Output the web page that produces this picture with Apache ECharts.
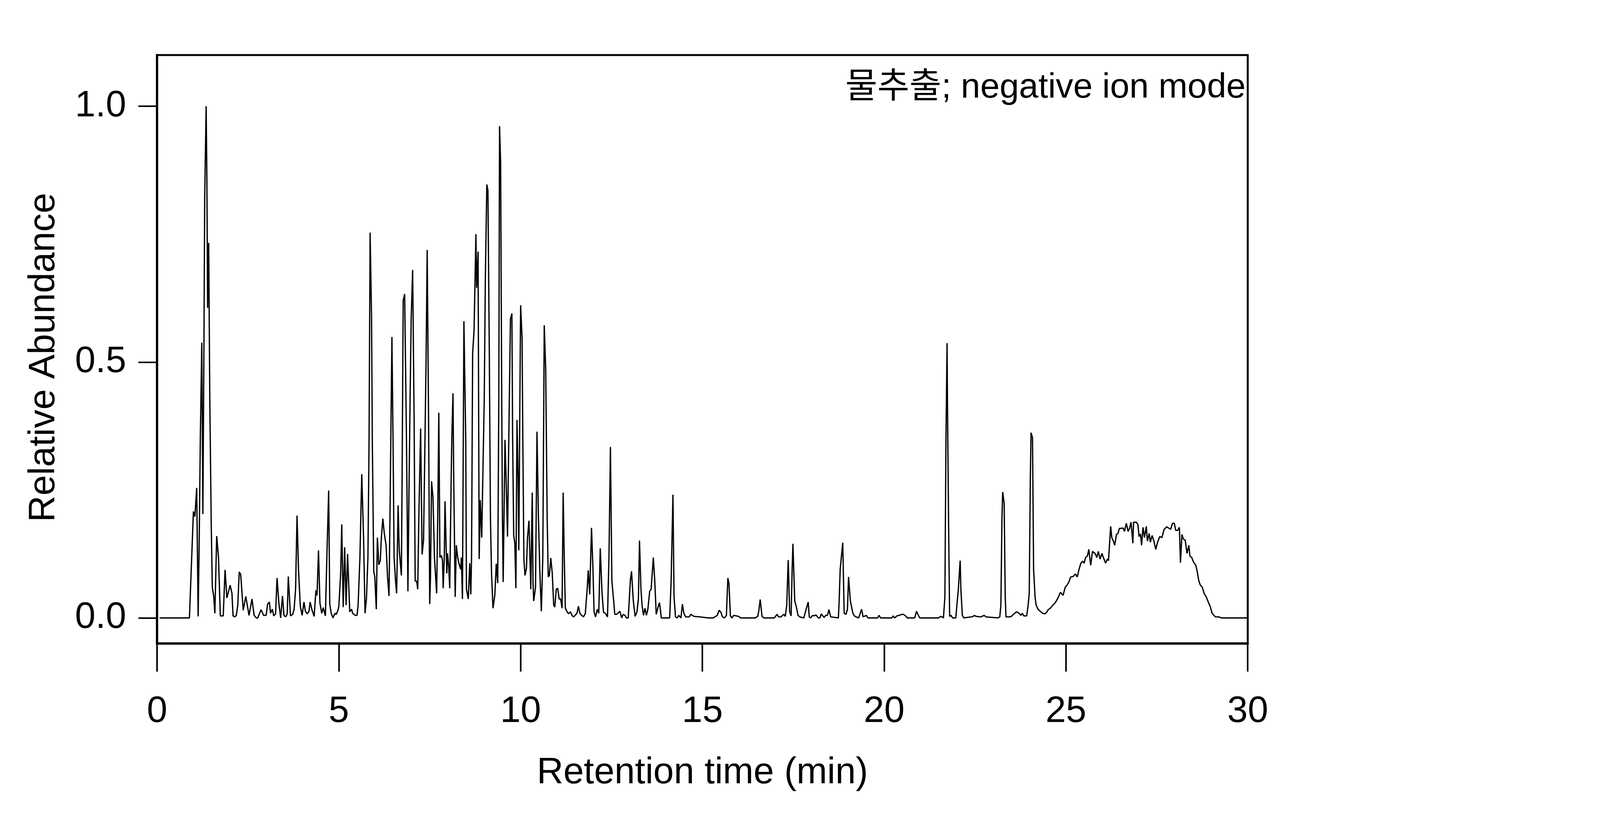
<!DOCTYPE html>
<html>
<head>
<meta charset="utf-8">
<script src="https://cdn.jsdelivr.net/npm/echarts@6/dist/echarts.min.js"></script>
<style>
html,body{margin:0;padding:0;background:#fff;overflow:hidden;}
#chart{width:100vw;height:100vh;}
</style>
</head>
<body>
<div id="chart"></div>
<script>
// Retention time (min) and relative abundance, segment 1 (0-10.3 min)
const time1 = [0.07,0.89,1.00,1.04,1.09,1.13,1.16,1.19,1.23,1.26,1.29,1.31,1.35,1.37,1.39,1.42,1.45,1.49,1.52,1.56,1.59,1.64,1.69,1.74,1.82,1.87,1.92,2.01,2.06,2.09,2.14,2.18,2.22,2.26,2.30,2.37,2.44,2.53,2.61,2.67,2.73,2.77,2.86,2.93,3.00,3.04,3.09,3.12,3.17,3.21,3.26,3.30,3.35,3.40,3.45,3.49,3.54,3.58,3.61,3.67,3.73,3.77,3.81,3.85,3.89,3.94,3.99,4.04,4.08,4.13,4.18,4.21,4.26,4.32,4.37,4.40,4.44,4.48,4.53,4.57,4.63,4.67,4.72,4.75,4.79,4.84,4.89,4.93,4.98,5.00,5.05,5.08,5.12,5.16,5.20,5.24,5.30,5.35,5.38,5.45,5.50,5.53,5.58,5.63,5.68,5.72,5.76,5.80,5.83,5.86,5.90,5.92,5.96,5.99,6.03,6.06,6.10,6.14,6.17,6.21,6.25,6.30,6.34,6.38,6.41,6.46,6.49,6.52,6.56,6.59,6.63,6.66,6.72,6.74,6.77,6.81,6.86,6.90,6.93,6.96,6.99,7.03,7.07,7.10,7.14,7.17,7.20,7.25,7.29,7.33,7.37,7.40,7.43,7.47,7.50,7.52,7.55,7.59,7.63,7.69,7.72,7.75,7.78,7.82,7.85,7.87,7.90,7.92,7.97,7.99,8.02,8.05,8.09,8.11,8.14,8.16,8.20,8.23,8.27,8.30,8.35,8.37,8.40,8.44,8.49,8.51,8.56,8.60,8.63,8.65,8.68,8.72,8.77,8.79,8.83,8.86,8.89,8.93,8.96,9.00,9.03,9.07,9.10,9.14,9.17,9.20,9.24,9.29,9.33,9.37,9.40,9.42,9.45,9.48,9.50,9.52,9.57,9.60,9.64,9.66,9.69,9.72,9.76,9.78,9.81,9.84,9.87,9.90,9.93,9.95,9.98,10.00,10.04,10.06,10.09,10.12,10.16,10.19,10.23,10.28,10.32];
const abund1 = [0,0,0.208,0.198,0.254,0.003,0.157,0.352,0.538,0.203,0.539,0.820,1.0,0.859,0.606,0.733,0.430,0.181,0.060,0.041,0.009,0.160,0.118,0.004,0.004,0.094,0.039,0.064,0.048,0.004,0.002,0.005,0.025,0.090,0.085,0.015,0.042,0.005,0.037,0.005,0,0,0.016,0.005,0.005,0.027,0.031,0.009,0.017,0.004,0.008,0.078,0.029,0,0.043,0.005,0.002,0.008,0.081,0.004,0.007,0.017,0.056,0.200,0.095,0.023,0.005,0.031,0.013,0.008,0.013,0.031,0.016,0.003,0.054,0.044,0.132,0.029,0.009,0.020,0.004,0.118,0.249,0.027,0.009,0,0.009,0.007,0.016,0.023,0.087,0.183,0.021,0.138,0.025,0.125,0.012,0.017,0.009,0.005,0.005,0.025,0.118,0.281,0.157,0.009,0.038,0.118,0.337,0.753,0.586,0.352,0.091,0.080,0.017,0.157,0.104,0.112,0.157,0.194,0.165,0.142,0.080,0.043,0.220,0.549,0.352,0.118,0.072,0.048,0.220,0.134,0.083,0.274,0.620,0.633,0.352,0.052,0.251,0.430,0.586,0.680,0.391,0.072,0.072,0.056,0.196,0.370,0.124,0.152,0.352,0.508,0.719,0.368,0.027,0.080,0.267,0.235,0.118,0.048,0.196,0.401,0.118,0.122,0.113,0.058,0.118,0.228,0.087,0.126,0.103,0.058,0.274,0.360,0.439,0.274,0.041,0.142,0.118,0.107,0.095,0.118,0.037,0.580,0.352,0.056,0.037,0.107,0.046,0.118,0.516,0.563,0.750,0.645,0.716,0.115,0.230,0.157,0.274,0.430,0.664,0.847,0.836,0.508,0.196,0.087,0.019,0.044,0.106,0.068,0.430,0.961,0.890,0.430,0.196,0.070,0.348,0.274,0.159,0.274,0.430,0.584,0.595,0.352,0.161,0.146,0.058,0.387,0.274,0.132,0.430,0.611,0.547,0.352,0.115,0.083,0.097,0.157,0.190,0.056,0.245];

// segment 2 (10.3-20.6 min)
const time2 = [10.34,10.36,10.41,10.45,10.49,10.53,10.57,10.61,10.65,10.69,10.73,10.76,10.79,10.83,10.87,10.91,10.94,10.98,11.02,11.06,11.10,11.14,11.17,11.20,11.23,11.27,11.32,11.37,11.42,11.46,11.50,11.55,11.59,11.63,11.68,11.73,11.78,11.83,11.86,11.90,11.95,11.99,12.02,12.06,12.11,12.15,12.19,12.24,12.28,12.33,12.39,12.43,12.47,12.51,12.56,12.59,12.64,12.73,12.78,12.82,12.87,12.91,12.96,13.02,13.05,13.10,13.15,13.20,13.24,13.27,13.31,13.34,13.38,13.42,13.46,13.50,13.55,13.59,13.65,13.69,13.73,13.78,13.82,13.87,14.10,14.14,14.19,14.22,14.26,14.31,14.35,14.41,14.45,14.49,14.54,14.64,14.68,14.77,14.94,15.15,15.30,15.41,15.46,15.51,15.55,15.61,15.66,15.70,15.73,15.77,15.81,15.86,16.00,16.05,16.45,16.52,16.55,16.59,16.64,16.69,16.98,17.03,17.06,17.09,17.16,17.24,17.28,17.32,17.36,17.40,17.44,17.47,17.49,17.54,17.58,17.63,17.68,17.79,17.85,17.91,17.94,17.98,18.03,18.08,18.12,18.19,18.23,18.27,18.32,18.35,18.39,18.44,18.48,18.53,18.74,18.76,18.79,18.86,18.90,18.95,18.99,19.02,19.07,19.14,19.18,19.23,19.30,19.34,19.38,19.42,19.51,19.55,19.82,19.86,19.90,20.21,20.25,20.29,20.35,20.42,20.48,20.53,20.62];
const abund2 = [0.072,0.033,0.060,0.364,0.196,0.087,0.013,0.118,0.572,0.485,0.196,0.080,0.083,0.117,0.087,0.025,0.021,0.056,0.058,0.037,0.037,0.019,0.245,0.118,0.019,0.013,0.008,0.012,0.004,0.002,0.005,0.009,0.023,0.009,0.005,0.002,0.009,0.056,0.093,0.046,0.176,0.095,0.012,0.002,0.017,0.009,0.136,0.048,0.011,0.009,0.002,0.118,0.334,0.072,0.033,0.007,0.007,0.013,0,0.007,0.005,0,0,0.075,0.091,0.033,0.003,0.012,0.037,0.151,0.056,0.025,0.005,0.019,0.005,0.017,0.052,0.056,0.118,0.072,0.007,0.021,0.030,0,0,0.072,0.241,0.041,0.002,0,0.005,0,0.027,0.009,0.002,0.002,0.007,0.003,0.002,0,0,0.005,0.015,0.011,0.002,0,0.005,0.078,0.068,0.004,0,0.005,0.003,0,0,0.003,0.013,0.036,0.003,0,0,0.005,0.007,0.002,0.002,0.007,0.003,0.025,0.113,0.012,0.004,0.099,0.145,0.033,0.023,0.005,0.002,0,0.016,0.031,0.002,0,0.005,0.004,0.006,0,0,0.008,0.003,0.001,0.005,0.005,0.016,0.002,0,0.030,0.095,0.147,0.009,0.007,0.017,0.080,0.033,0.009,0.004,0.002,0,0.009,0.017,0.002,0.005,0,0,0.005,0,0,0.004,0,0.004,0.005,0.007,0.007,0.002];

// segment 3 (20.6-30 min)
const time3 = [20.63,20.70,20.84,20.89,20.94,20.98,21.50,21.55,21.59,21.63,21.67,21.70,21.73,21.74,21.77,21.80,21.84,21.88,21.97,22.00,22.04,22.09,22.11,22.15,22.19,22.39,22.45,22.48,22.53,22.66,22.75,22.80,23.13,23.18,23.21,23.24,23.26,23.30,23.33,23.35,23.45,23.50,23.55,23.59,23.64,23.71,23.76,23.80,23.84,23.92,23.96,23.99,24.02,24.04,24.08,24.11,24.15,24.18,24.23,24.29,24.36,24.42,24.47,24.51,24.57,24.64,24.71,24.78,24.85,24.92,24.98,25.03,25.08,25.13,25.20,25.26,25.31,25.36,25.41,25.46,25.50,25.54,25.59,25.63,25.68,25.73,25.80,25.85,25.89,25.94,25.99,26.03,26.09,26.14,26.17,26.23,26.26,26.30,26.34,26.39,26.43,26.47,26.53,26.57,26.61,26.66,26.71,26.75,26.79,26.84,26.86,26.94,26.98,27.01,27.05,27.08,27.12,27.16,27.21,27.24,27.29,27.32,27.37,27.42,27.47,27.52,27.58,27.64,27.70,27.77,27.84,27.88,27.93,27.98,28.02,28.07,28.12,28.15,28.19,28.23,28.28,28.33,28.38,28.41,28.46,28.51,28.57,28.61,28.65,28.69,28.75,28.80,28.86,28.92,28.97,29.02,29.11,29.21,29.27,29.56,29.99];
const abund3 = [0,0,0,0.013,0.005,0,0,0.003,0.002,0,0.041,0.352,0.537,0.430,0.196,0.003,0.005,0,0,0.025,0.056,0.112,0.056,0.005,0,0.002,0.003,0.005,0.003,0.002,0.005,0.002,0,0.002,0.025,0.196,0.246,0.224,0.041,0.002,0.002,0.003,0.007,0.009,0.012,0.009,0.005,0.009,0.004,0.004,0.025,0.048,0.274,0.362,0.352,0.095,0.041,0.025,0.017,0.013,0.009,0.008,0.011,0.016,0.019,0.025,0.030,0.039,0.050,0.044,0.060,0.064,0.070,0.080,0.081,0.086,0.080,0.095,0.107,0.111,0.107,0.118,0.121,0.134,0.103,0.130,0.126,0.118,0.130,0.115,0.126,0.118,0.107,0.115,0.112,0.179,0.157,0.151,0.142,0.163,0.165,0.175,0.175,0.176,0.169,0.185,0.169,0.175,0.187,0.146,0.187,0.187,0.182,0.159,0.164,0.142,0.177,0.157,0.179,0.150,0.165,0.148,0.161,0.150,0.134,0.148,0.159,0.157,0.173,0.178,0.175,0.173,0.185,0.185,0.171,0.171,0.177,0.108,0.163,0.154,0.152,0.126,0.142,0.121,0.118,0.109,0.103,0.091,0.074,0.065,0.060,0.048,0.041,0.030,0.022,0.009,0.002,0.002,0,0,0];

const xTicks = [0, 5, 10, 15, 20, 25, 30];
const yTicks = [0, 0.5, 1.0];
const annotation = '물추출; negative ion mode';

const times = time1.concat(time2, time3);
const abund = abund1.concat(abund2, abund3);
const seriesData = times.map((t, i) => [t, abund[i]]);

const FONT = '"Liberation Sans", Arial, "Noto Sans CJK KR", sans-serif';

// Layout designed for a 6000x2100 canvas, mapped onto the real viewport
const W = window.innerWidth || 6000;
const H = window.innerHeight || 2100;
const sx = W / 6000, sy = H / 2100;
const fscale = Math.sqrt(sx * sy);
const fs = 114 * fscale;         // tick labels and axis titles
const fsNote = 108 * fscale;     // annotation

const chart = echarts.init(document.getElementById('chart'), null, {renderer: 'canvas', width: W, height: H});
chart.setOption({
  animation: false,
  backgroundColor: '#ffffff',
  textStyle: {fontFamily: FONT},
  grid: {
    left: 589 * sx, right: 1321 * sx, top: 141 * sy, bottom: 452 * sy,
    show: true, borderColor: '#000', borderWidth: 6 * fscale, backgroundColor: 'transparent',
    containLabel: false
  },
  xAxis: {
    type: 'value',
    min: 0, max: 30, interval: 5,
    axisLine: {show: true, onZero: false, lineStyle: {color: '#000', width: 7 * fscale}},
    axisTick: {show: true, inside: false, length: 72 * sy, lineStyle: {color: '#000', width: 5 * fscale}},
    axisLabel: {
      show: true, margin: 208 * sy - 0.8465 * fs, fontSize: fs, color: '#000', fontFamily: FONT,
      showMinLabel: true, showMaxLabel: true,
      customValues: xTicks
    },
    splitLine: {show: false},
    name: 'Retention time (min)',
    nameLocation: 'middle',
    nameGap: 365 * sy - 0.8465 * fs,
    nameTextStyle: {fontSize: fs, color: '#000', fontFamily: FONT}
  },
  yAxis: {
    type: 'value',
    min: -0.05, max: 1.1,
    axisLine: {show: true, onZero: false, lineStyle: {color: '#000', width: 7 * fscale}},
    axisTick: {show: true, inside: false, length: 70 * sx, lineStyle: {color: '#000', width: 5 * fscale}, customValues: yTicks},
    axisLabel: {
      show: true, margin: 122 * sx - 0.045 * fs, fontSize: fs, color: '#000', fontFamily: FONT,
      customValues: yTicks,
      formatter: v => Number(v).toFixed(1),
      padding: [0, 0, Math.max(0, 2 * (31 * sy - 0.3465 * fs)), 0]
    },
    splitLine: {show: false},
    name: 'Relative Abundance',
    nameLocation: 'middle',
    nameGap: 376 * sx - 0.1535 * fs,
    nameRotate: 90,
    nameTextStyle: {fontSize: fs, color: '#000', fontFamily: FONT, padding: [0, 42 * sy, 0, 0]}
  },
  graphic: [{
    type: 'text',
    x: 4666 * sx + 0.04 * fsNote,
    y: 256 * sy - 0.3465 * fsNote,
    style: {
      text: annotation,
      fontSize: fsNote,
      fontFamily: FONT,
      fill: '#000',
      align: 'right',
      verticalAlign: 'middle'
    }
  }],
  series: [{
    type: 'line',
    data: seriesData,
    showSymbol: false,
    symbol: 'none',
    smooth: false,
    clip: true,
    lineStyle: {color: '#000', width: 4 * fscale},
    silent: true
  }]
});
</script>
</body>
</html>
